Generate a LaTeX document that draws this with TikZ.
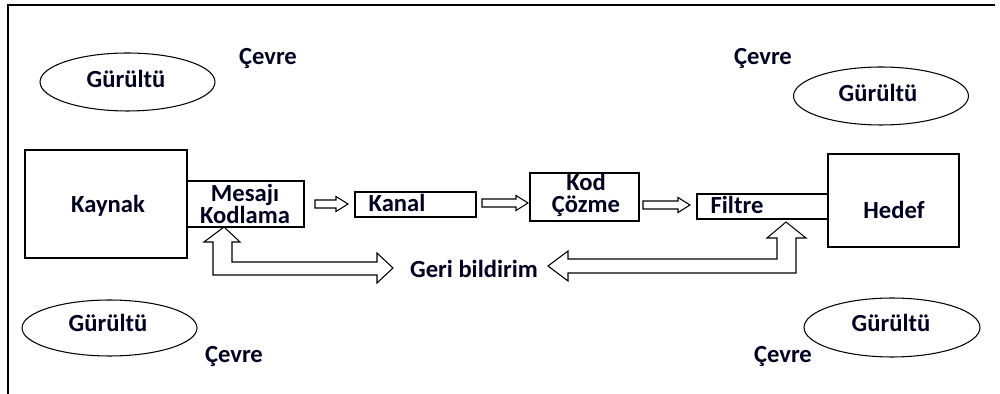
\documentclass[tikz,border=0pt]{standalone}
\usepackage{fontspec}
\setmainfont{Carlito}
\usetikzlibrary{shapes.geometric}
\begin{document}
\begin{tikzpicture}[x=0.02cm,y=-0.02cm,
  lbl/.style={font=\fontsize{14}{12.5}\selectfont\bfseries, inner sep=0pt, align=center, text=black!88!blue},
  box/.style={draw, line width=0.9pt, inner sep=0pt},
  oval/.style={draw, ellipse, line width=0.6pt, inner sep=0pt},
  harr/.style={draw, line width=0.6pt, fill=white, line join=miter},
  frameline/.style={draw, line width=0.7pt}]
\useasboundingbox (0,0) rectangle (1000,394);
% frame (top and left edges)
\coordinate (fa) at (8,394);
\coordinate (fb) at (8,5);
\coordinate (fc) at (995,5);
\draw[frameline] (fa) -- (fb) -- (fc);
% noise ellipses
\node[oval, minimum width=3.5cm, minimum height=1.16cm] (e1) at (127.5,82) {};
\node[oval, minimum width=3.5cm, minimum height=1.12cm] (e2) at (109.5,328) {};
\node[oval, minimum width=3.5cm, minimum height=1.16cm] (e3) at (881,96) {};
\node[oval, minimum width=3.52cm, minimum height=1.18cm] (e4) at (892,327.5) {};
\node[lbl] (g1) at (126,79) {Gürültü};
\node[lbl] (g2) at (108,323) {Gürültü};
\node[lbl] (g3) at (878,93) {Gürültü};
\node[lbl] (g4) at (891,323) {Gürültü};
% environment labels
\node[lbl] (c1) at (268,59) {Çevre};
\node[lbl] (c2) at (234,357) {Çevre};
\node[lbl] (c3) at (763,59) {Çevre};
\node[lbl] (c4) at (783,357) {Çevre};
% boxes
\node[box, minimum width=3.24cm, minimum height=2.16cm] (kaynak) at (106,204) {};
\node[box, minimum width=2.34cm, minimum height=0.92cm] (mesaj) at (245.5,204) {};
\node[box, minimum width=2.42cm, minimum height=0.5cm] (kanal) at (415.5,204.5) {};
\node[box, minimum width=2.18cm, minimum height=0.96cm] (kod) at (584.5,197) {};
\node[box, minimum width=2.62cm, minimum height=0.5cm] (filtre) at (762.5,206.5) {};
\node[box, minimum width=2.62cm, minimum height=1.86cm] (hedef) at (893.5,200.5) {};
\node[lbl] (tkaynak) at (108,206) {Kaynak};
\node[lbl] (tmesaj) at (245,204) {Mesajı\\Kodlama};
\node[lbl] (tkanal) at (397,203) {Kanal};
\node[lbl] (tkod) at (586,195) {Kod\\Çözme};
\node[lbl] (tfiltre) at (737,205) {Filtre};
\node[lbl] (thedef) at (894,210) {Hedef};
\node[lbl] (tgeri) at (474,269) {Geri bildirim};
% small hollow arrows
\newcommand\blockarrow[3]{%
  \draw[harr] (#1,#3) -- ++(0,-4) -- ++(#2-12,0) -- ++(0,-3.5) -- ++(12,7.5)
    -- ++(-12,7.5) -- ++(0,-3.5) -- ++(-#2+12,0) -- cycle;}
\blockarrow{315}{33}{204}
\blockarrow{482}{46}{203}
\blockarrow{643}{47}{205}
% feedback arrows
\draw[harr] (224,227) -- (240,242) -- (232,242) -- (232,262) -- (377,262) -- (377,253)
  -- (393,268) -- (377,283) -- (377,275) -- (213,275) -- (213,242) -- (204,242) -- cycle;
\draw[harr] (548,266) -- (568,251) -- (568,259) -- (777,259) -- (777,238) -- (767,238)
  -- (786,222) -- (806,238) -- (796,238) -- (796,273) -- (568,273) -- (568,281) -- cycle;
\end{tikzpicture}
\end{document}
